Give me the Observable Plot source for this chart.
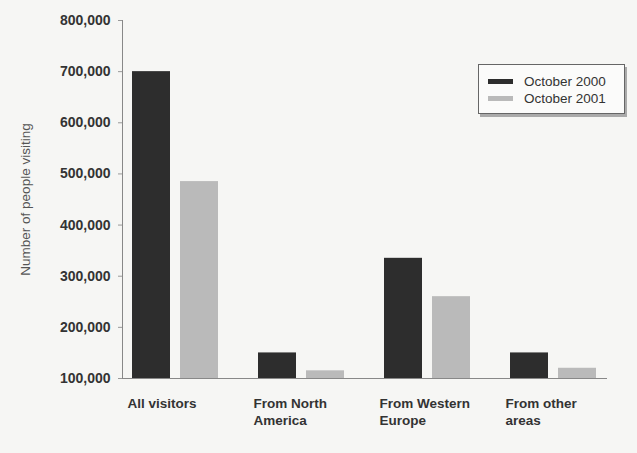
<!DOCTYPE html>
<html>
<head>
<meta charset="utf-8">
<script src="https://cdn.jsdelivr.net/npm/d3@7"></script>
<script src="https://cdn.jsdelivr.net/npm/@observablehq/plot@0.6"></script>
<style>
  html, body { margin: 0; padding: 0; background: #f6f6f4; }
  #wrap { position: relative; width: 637px; height: 453px; font-family: "Liberation Sans", Arial, sans-serif; }
  #legend { position: absolute; left: 478px; top: 64px; width: 147px; height: 50px; border: 1px solid #666; box-shadow: 2px 3px 0 #aaa; background: #fbfbfa; box-sizing: border-box; padding: 8px 0 0 9px; }
  .item { display: flex; align-items: center; height: 17px; font-size: 13.5px; color: #333; }
  .sw { width: 25px; height: 5px; margin-right: 11px; }
</style>
</head>
<body>
<div id="wrap"></div>
<script>
const categories = ["All visitors", "From North America", "From Western Europe", "From other areas"];
const tickLabels = ["All visitors", "From North\nAmerica", "From Western\nEurope", "From other\nareas"];
const series = ["October 2000", "October 2001"];
const oct2000 = [700000, 150000, 335000, 150000];
const oct2001 = [485000, 115000, 260000, 120000];
const yTicks = [100000, 200000, 300000, 400000, 500000, 600000, 700000, 800000];
const BASE = 100000;
const colors = ["#2d2d2d", "#bababa"];

const data = [];
categories.forEach((c, i) => {
  data.push({cat: c, series: series[0], value: oct2000[i]});
  data.push({cat: c, series: series[1], value: oct2001[i]});
});

const chart = Plot.plot({
  width: 637,
  height: 453,
  marginLeft: 120,
  marginRight: 29,
  marginTop: 20,
  marginBottom: 75,
  style: {background: "transparent", fontFamily: "'Liberation Sans', Arial, sans-serif", color: "#333"},
  y: {domain: [BASE, 800000]},
  x: {domain: series, padding: 0.2, axis: null},
  fx: {domain: categories, paddingInner: 0.157, paddingOuter: 0},
  color: {domain: series, range: colors},
  marks: [
    Plot.barY(data, {fx: "cat", x: "series", y1: d => BASE, y2: "value", fill: "series"}),
    Plot.frame({anchor: "bottom", facet: "super", stroke: "#888"}),
    Plot.frame({anchor: "left", facet: "super", stroke: "#888"}),
    Plot.axisY({ticks: yTicks, tickFormat: d3.format(","), fontWeight: "bold", fontSize: 14, tickSize: 4, tickPadding: 8,
      label: null, stroke: "#999"}),
    Plot.axisY({ticks: [], label: "Number of people visiting", labelAnchor: "center", labelArrow: "none",
      labelOffset: 102, fontSize: 13.5, fill: "#555"}),
    Plot.axisFx({anchor: "bottom", label: null, tickSize: 0, tickPadding: 18, textAnchor: "start", dx: -48,
      fontWeight: "bold", fontSize: 13.5, lineHeight: 1.25, tickFormat: d => tickLabels[categories.indexOf(d)]})
  ]
});
const wrap = document.getElementById("wrap");
wrap.appendChild(chart);

const legend = document.createElement("div");
legend.id = "legend";
series.forEach((s, i) => {
  const it = document.createElement("div");
  it.className = "item";
  it.innerHTML = `<span class="sw" style="background:${colors[i]}"></span><span>${s}</span>`;
  legend.appendChild(it);
});
wrap.appendChild(legend);
</script>
</body>
</html>
